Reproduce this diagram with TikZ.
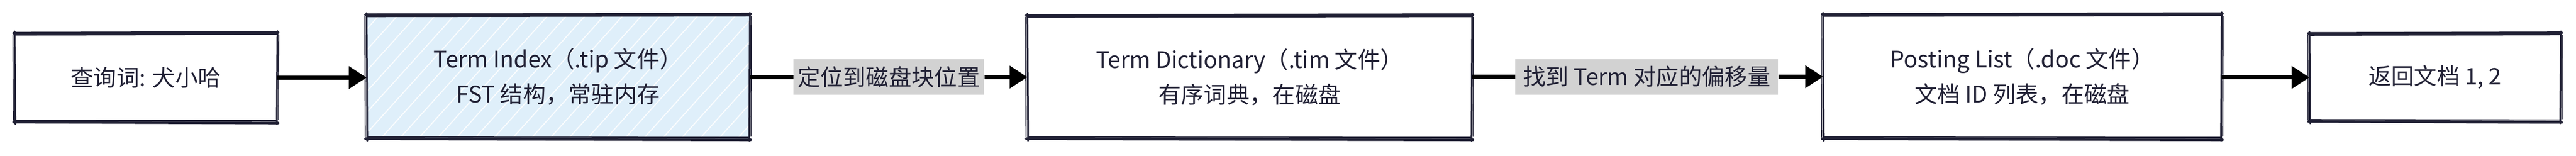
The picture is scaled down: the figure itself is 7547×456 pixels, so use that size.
\documentclass[tikz,border=0pt]{standalone}
\usepackage{fontspec}
\setmainfont{Noto Sans CJK SC}
\usetikzlibrary{arrows.meta}
\definecolor{ink}{RGB}{32,32,52}
\definecolor{lblgray}{RGB}{210,210,210}
\definecolor{paleblue}{RGB}{223,239,250}
\tikzset{
  box/.style={draw=none, minimum width=#1, align=center, inner sep=0pt, text=ink},
  lbl/.style={fill=lblgray, align=center, inner sep=0pt, text=ink, minimum height=1.04cm},
  skt/.style={draw=ink, line cap=round},
  hach/.style={draw=white, line width=0.9pt, opacity=0.85},
  conn/.style={draw=black, line width=3.4pt},
  connarrow/.style={conn, -{Triangle[length=14.8pt, width=18.2pt]}},
}
\newcommand\skbox[1]{%
  \draw[skt, line width=2.2pt] ([shift={(-3,1)}]#1.north west) -- ([shift={(3,-1)}]#1.north east);
  \draw[skt, line width=1.2pt] ([shift={(2,6)}]#1.north west) -- ([shift={(-2,4)}]#1.north east);
  \draw[skt, line width=2.2pt] ([shift={(-3,-1)}]#1.south west) -- ([shift={(3,2)}]#1.south east);
  \draw[skt, line width=1.0pt] ([shift={(4,-6)}]#1.south west) -- ([shift={(-2,-5)}]#1.south east);
  \draw[skt, line width=1.5pt] ([shift={(0,-4)}]#1.north west) -- ([shift={(2,5)}]#1.south west);
  \draw[skt, line width=0.8pt] ([shift={(-5,6)}]#1.north west) -- ([shift={(-4,-6)}]#1.south west);
  \draw[skt, line width=1.5pt] ([shift={(1,-5)}]#1.north east) -- ([shift={(-1,5)}]#1.south east);
  \draw[skt, line width=0.8pt] ([shift={(5,6)}]#1.north east) -- ([shift={(4,-8)}]#1.south east);
}
\begin{document}
\begin{tikzpicture}[x=0.01cm, y=-0.01cm, font=\fontsize{19pt}{29pt}\selectfont]
\useasboundingbox[fill=white] (0,0) rectangle (7547,456);

% boxes
\node[box=7.67cm, minimum height=2.61cm] (b1) at (427.5,227.5) {查询词: 犬小哈};
\node[box=11.20cm, minimum height=3.64cm, fill=paleblue] (b2) at (1635,225) {\phantom{X}};
\begin{scope}
  \clip (b2.north west) rectangle (b2.south east);
  \foreach \i in {-400,-345,...,1160} {
    \draw[hach] ([shift={(\i,0)}]b2.south west) -- ++(328,-364);
  }
\end{scope}
\node[box=11.20cm, minimum height=3.64cm] (b2t) at (b2) {Term Index（.tip 文件）\\FST 结构，常驻内存};
\node[box=13.00cm, minimum height=3.62cm] (b3) at (3661,226) {Term Dictionary（.tim 文件）\\有序词典，在磁盘};
\node[box=11.65cm, minimum height=3.65cm] (b4) at (5924.5,224.5) {Posting List（.doc 文件）\\文档 ID 列表，在磁盘};
\node[box=7.34cm, minimum height=2.58cm] (b5) at (7134,227) {返回文档 1, 2};

\skbox{b1}
\skbox{b2}
\skbox{b3}
\skbox{b4}
\skbox{b5}

% labels
\node[lbl, minimum width=5.58cm] (l1) at (2604,226) {定位到磁盘块位置};
\node[lbl, minimum width=7.69cm] (l2) at (4824.5,225) {找到 Term 对应的偏移量};

% connectors
\draw[connarrow] (b1.east) -- (b1.east -| b2.west);
\draw[conn] (b2.east |- l1.west) -- (l1.west);
\draw[connarrow] (l1.east) -- (l1.east -| b3.west);
\draw[conn] (b3.east |- l2.west) -- (l2.west);
\draw[connarrow] (l2.east) -- (l2.east -| b4.west);
\draw[connarrow] (b4.east |- b5.west) -- (b5.west);
\end{tikzpicture}
\end{document}
